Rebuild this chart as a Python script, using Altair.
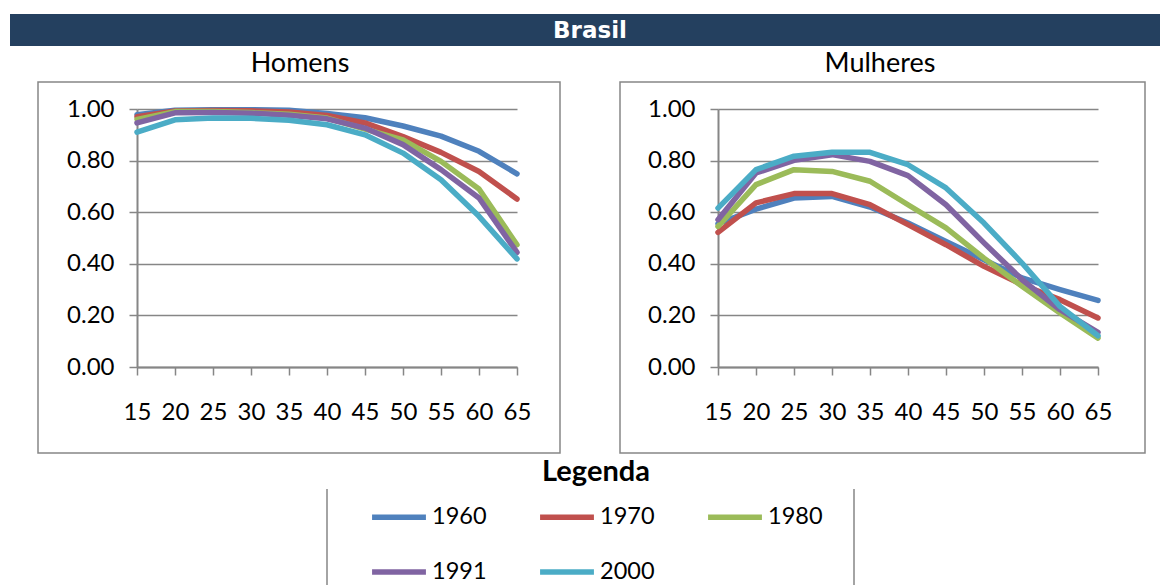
import altair as alt
import pandas as pd

# Age groups (x axis) and census years (series)
ages = [15, 20, 25, 30, 35, 40, 45, 50, 55, 60, 65]
years = ["1960", "1970", "1980", "1991", "2000"]
colors = ["#4F81BD", "#C0504D", "#9BBB59", "#8064A2", "#4BACC6"]
y_ticks = [0.0, 0.2, 0.4, 0.6, 0.8, 1.0]

# Homens
h_1960 = [0.978, 0.995, 0.997, 0.997, 0.995, 0.983, 0.966, 0.934, 0.895, 0.836, 0.749]
h_1970 = [0.970, 0.992, 0.994, 0.993, 0.988, 0.975, 0.946, 0.893, 0.832, 0.758, 0.651]
h_1980 = [0.960, 0.990, 0.990, 0.986, 0.980, 0.965, 0.922, 0.880, 0.797, 0.690, 0.474]
h_1991 = [0.946, 0.985, 0.986, 0.984, 0.976, 0.962, 0.926, 0.862, 0.765, 0.655, 0.444]
h_2000 = [0.910, 0.958, 0.965, 0.964, 0.956, 0.939, 0.900, 0.829, 0.726, 0.584, 0.419]

# Mulheres
m_1960 = [0.555, 0.612, 0.655, 0.661, 0.620, 0.558, 0.487, 0.416, 0.345, 0.300, 0.258]
m_1970 = [0.522, 0.636, 0.672, 0.672, 0.629, 0.552, 0.474, 0.390, 0.319, 0.261, 0.190]
m_1980 = [0.545, 0.707, 0.765, 0.758, 0.720, 0.629, 0.539, 0.422, 0.313, 0.209, 0.112]
m_1991 = [0.571, 0.752, 0.801, 0.823, 0.797, 0.742, 0.629, 0.481, 0.339, 0.222, 0.134]
m_2000 = [0.616, 0.765, 0.817, 0.832, 0.832, 0.784, 0.694, 0.558, 0.403, 0.235, 0.121]


def long_table(series):
    rows = []
    for year, values in zip(years, series):
        for age, v in zip(ages, values):
            rows.append({"idade": age, "ano": year, "taxa": v})
    return pd.DataFrame(rows)


df_h = long_table([h_1960, h_1970, h_1980, h_1991, h_2000])
df_m = long_table([m_1960, m_1970, m_1980, m_1991, m_2000])
one = pd.DataFrame({"k": [0]})

GRAY = "#868686"
FONT = "Lato"
W, H = 380, 258


def lines(df):
    return alt.Chart(df).mark_line(
        strokeWidth=5.5, strokeJoin="round", strokeCap="round"
    ).encode(
        x=alt.X(
            "idade:Q",
            title="",
            scale=alt.Scale(domain=[15, 65], nice=False, zero=False),
            axis=alt.Axis(values=ages, grid=False, tickSize=8, labelPadding=25,
                          labelFlush=False),
        ),
        y=alt.Y(
            "taxa:Q",
            title="",
            scale=alt.Scale(domain=[0, 1], nice=False),
            axis=alt.Axis(values=y_ticks, format=".2f", grid=True, tickSize=8,
                          labelPadding=15),
        ),
        color=alt.Color(
            "ano:N",
            scale=alt.Scale(domain=years, range=colors),
            legend=alt.Legend(
                title="Legenda",
                orient="none",
                legendX=232,
                legendY=349,
                direction="horizontal",
                columns=3,
                symbolType="stroke",
                symbolSize=2900,
                symbolStrokeWidth=5.5,
                labelFont=FONT,
                labelFontSize=23.5,
                labelColor="black",
                labelOffset=3,
                titleFont=FONT,
                titleFontSize=29,
                titleFontWeight="bold",
                titleColor="black",
                titleAnchor="middle",
                titlePadding=0,
                columnPadding=42,
                rowPadding=13,
                padding=0,
            ),
        ),
    )


def frame(x1, x2):
    return alt.Chart(one).mark_rect(
        fillOpacity=0, stroke=GRAY, strokeWidth=1.5
    ).encode(x=alt.value(x1), x2=alt.value(x2), y=alt.value(-27), y2=alt.value(344))


def subtitle(text, x):
    return alt.Chart(one).mark_text(
        text=text, font=FONT, fontSize=27, color="black", align="center", baseline="middle"
    ).encode(x=alt.value(x), y=alt.value(-45))


header = alt.Chart(one).mark_rect(color="#24405F").encode(
    x=alt.value(-127), x2=alt.value(1023), y=alt.value(-95), y2=alt.value(-63)
)
header_text = alt.Chart(one).mark_text(
    text="Brasil", font="DejaVu Sans", fontSize=23, fontWeight="bold",
    color="white", align="center", baseline="middle"
).encode(x=alt.value(453), y=alt.value(-78))

legend_sides = alt.Chart(one).mark_rule(color=GRAY, strokeWidth=1.5).encode(
    x=alt.value(190), y=alt.value(380), y2=alt.value(476)
) + alt.Chart(one).mark_rule(color=GRAY, strokeWidth=1.5).encode(
    x=alt.value(717), y=alt.value(380), y2=alt.value(476)
)

left = alt.layer(
    header, header_text, frame(-99, 423), subtitle("Homens", 163),
    legend_sides, lines(df_h)
).properties(width=W, height=H)

right = alt.layer(
    frame(-98, 427), subtitle("Mulheres", 162), lines(df_m)
).properties(width=W, height=H)

chart = alt.hconcat(left, right, spacing=201, bounds="flush").properties(
    padding={"left": 10, "top": 14, "right": 0, "bottom": 0},
    autosize=alt.AutoSizeParams(type="pad"),
).configure_view(strokeWidth=0).configure_axis(
    domainColor=GRAY,
    domainWidth=2,
    gridColor=GRAY,
    gridWidth=1.5,
    tickColor=GRAY,
    tickWidth=1.5,
    labelFont=FONT,
    labelFontSize=24,
    labelColor="black",
)

chart.save("out.html", embed_options={"renderer": "svg", "actions": False})
